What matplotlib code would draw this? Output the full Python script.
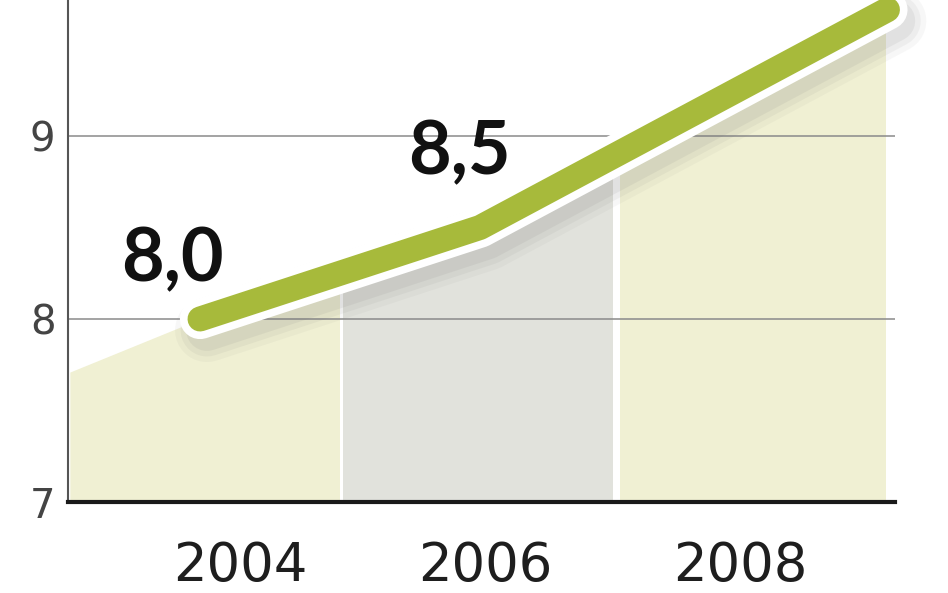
import matplotlib
matplotlib.use("Agg")
import matplotlib.pyplot as plt
import matplotlib.patheffects as pe
from matplotlib.patches import Rectangle

# data
years = [2003.07, 2004, 2006, 2008.91]
values = [7.71, 8.0, 8.5, 9.69]
label_years = [2004, 2006]
label_values = [8.0, 8.5]
label_texts = ["8,0", "8,5"]
label_offsets = [(-20, 27), (-15, 38)]  # points

tick_pos = [2004.29, 2006.04, 2007.86]
tick_labels = ["2004", "2006", "2008"]

panels = [(2003.06, 2004.99, "#f0f0d3"),
          (2005.02, 2006.94, "#e1e2dc"),
          (2007.00, 2008.89, "#f0f0d3")]

green = "#a7ba3b"

fig = plt.figure(figsize=(9.48, 5.93), dpi=100)
ax = fig.add_axes([68 / 948, 91 / 593, 827 / 948, 502 / 593])
ax.set_xlim(2003.057, 2008.964)
ax.set_ylim(7, 9.743)

# shaded area under the line, cut into the three panels
for x0, x1, col in panels:
    poly = ax.fill_between(years, values, 7, color=col, lw=0, zorder=1)
    poly.set_clip_path(Rectangle((x0, 7), x1 - x0, 3, transform=ax.transData))

for g in [8, 9]:
    ax.axhline(g, color="#8a8a8a", lw=1.1, zorder=2)

shadow = [pe.SimpleLineShadow(offset=(5, -8), shadow_color="#707070", alpha=0.05, linewidth=46),
          pe.SimpleLineShadow(offset=(5, -8), shadow_color="#707070", alpha=0.07, linewidth=38),
          pe.SimpleLineShadow(offset=(5, -8), shadow_color="#707070", alpha=0.09, linewidth=30),
          pe.Stroke(linewidth=29, foreground="white"),
          pe.Normal()]
ax.plot(years[1:], values[1:], color=green, lw=18, solid_capstyle="round",
        solid_joinstyle="round", zorder=4, clip_on=False, path_effects=shadow)

for x, y, t, off in zip(label_years, label_values, label_texts, label_offsets):
    ax.annotate(t, (x, y), xytext=off, textcoords="offset points",
                ha="center", va="baseline", fontsize=53, fontweight="bold",
                family="Lato", color="#111111", zorder=5)

ax.set_xticks(tick_pos)
ax.set_xticklabels(tick_labels, fontsize=38, color="#1e1e1e")
ax.set_yticks([7, 8, 9])
ax.set_yticklabels(["7", "8", "9"], fontsize=29, color="#444444")
ax.tick_params(axis="x", length=0, pad=27)
ax.tick_params(axis="y", length=0, pad=9)

for s in ["top", "right"]:
    ax.spines[s].set_visible(False)
ax.spines["left"].set_color("#555555")
ax.spines["left"].set_linewidth(1.5)
ax.spines["bottom"].set_color("#1a1a1a")
ax.spines["bottom"].set_linewidth(3)
ax.spines["bottom"].set_zorder(6)

fig.savefig("out.png", dpi=100, facecolor="white")
